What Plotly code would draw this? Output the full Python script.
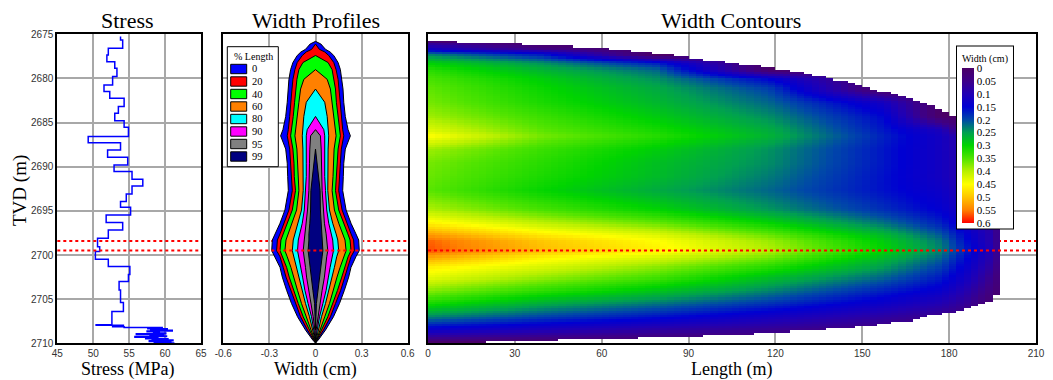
import numpy as np
import plotly.graph_objects as go

# The page body has an 8 px margin, so the figure is sized to fill the rest of the window.
OFF = 8
W, H = 1053 - OFF, 380 - OFF

# ---------------- data ----------------
# Stress log: top depth of each step (m TVD) and its stress (MPa)
stress_tvd = [2675.26, 2675.64, 2676.59, 2677.34, 2678.10, 2678.85, 2679.79, 2680.74,
              2681.49, 2682.25, 2683.19, 2683.95, 2684.78, 2685.53, 2686.59, 2687.27,
              2688.10, 2688.93, 2689.80, 2690.55, 2691.42, 2692.18, 2693.08, 2693.95,
              2694.59, 2695.46, 2696.33, 2697.16, 2698.10, 2699.05, 2699.61, 2700.48,
              2701.31, 2702.20, 2703.01, 2703.95, 2705.39, 2706.41, 2707.90, 2707.96,
              2708.05, 2708.12, 2708.20, 2708.28, 2708.36, 2708.44, 2708.52, 2708.60,
              2708.68, 2708.76, 2708.84, 2708.92, 2709.00, 2709.08, 2709.16, 2709.24,
              2709.32, 2709.40, 2709.48, 2709.56, 2709.64, 2709.72, 2709.80, 2709.88,
              2709.96, 2710.00]
stress_mpa = [53.8, 54.1, 52.1, 51.9, 53.0, 53.3, 52.7, 51.5,
              52.3, 54.3, 53.5, 53.0, 54.3, 54.9, 49.3, 53.8,
              52.0, 54.8, 52.9, 55.4, 56.9, 55.4, 54.6, 53.8,
              55.2, 51.8, 54.1, 52.1, 50.6, 50.9, 50.3, 52.1,
              55.1, 54.9, 53.6, 53.8, 54.2, 52.6, 50.4, 54.2,
              52.7, 54.3, 59.6, 57.6, 60.3, 58.0, 61.0, 57.5,
              59.2, 58.4, 60.1, 56.0, 59.8, 57.9, 60.2, 55.8,
              59.0, 57.3, 60.4, 58.2, 61.1, 57.8, 60.8, 58.5,
              61.2, 61.2]

# Perforated interval (red dotted lines)
perf_top, perf_bottom = 2698.4, 2699.5

# Width profiles: half-width (cm) at given depths for each % of fracture length
prof_tvd = [2675.8, 2676.1, 2676.7, 2677.0, 2677.4, 2678.2, 2679.0, 2680.1, 2681.2, 2682.7,
            2684.3, 2685.8, 2686.5, 2688.0, 2689.6, 2691.1, 2692.7, 2694.9, 2696.4, 2697.6,
            2698.3, 2699.5, 2700.2, 2701.4, 2702.5, 2704.0, 2705.5, 2707.0, 2708.5, 2709.7,
            2709.95]
pct_length = [0, 20, 40, 60, 80, 90, 95, 99]
pct_colors = ["#0000ff", "#ff0000", "#00ff00", "#ff8000", "#00ffff", "#ff00ff", "#808080", "#000080"]
hw_0 = [0, 0.035, 0.065, 0.095, 0.119, 0.147, 0.162, 0.173, 0.179, 0.184,
        0.194, 0.212, 0.227, 0.194, 0.184, 0.181, 0.177, 0.199, 0.231, 0.263,
        0.281, 0.285, 0.263, 0.231, 0.216, 0.188, 0.156, 0.117, 0.065, 0.015,
        0]
hw_20 = [0, 0, 0.025, 0.060, 0.086, 0.119, 0.134, 0.147, 0.153, 0.158,
         0.168, 0.177, 0.184, 0.168, 0.162, 0.158, 0.151, 0.173, 0.203, 0.231,
         0.248, 0.253, 0.231, 0.210, 0.192, 0.164, 0.130, 0.097, 0.052, 0.010,
         0]
hw_40 = [0, 0, 0, 0, 0, 0.082, 0.108, 0.121, 0.130, 0.136,
         0.145, 0.156, 0.162, 0.147, 0.140, 0.138, 0.130, 0.151, 0.181, 0.210,
         0.225, 0.231, 0.212, 0.188, 0.171, 0.143, 0.112, 0.080, 0.039, 0.006,
         0]
hw_60 = [0, 0, 0, 0, 0, 0, 0, 0.076, 0.097, 0.108,
         0.119, 0.130, 0.134, 0.121, 0.119, 0.114, 0.108, 0.123, 0.151, 0.177,
         0.192, 0.199, 0.184, 0.160, 0.140, 0.117, 0.091, 0.060, 0.030, 0.004,
         0]
hw_80 = [0, 0, 0, 0, 0, 0, 0, 0, 0, 0.060,
         0.076, 0.082, 0.086, 0.082, 0.082, 0.080, 0.080, 0.091, 0.112, 0.134,
         0.145, 0.151, 0.138, 0.123, 0.108, 0.086, 0.065, 0.039, 0.017, 0.002,
         0]
hw_90 = [0, 0, 0, 0, 0, 0, 0, 0, 0, 0,
         0, 0.054, 0.060, 0.060, 0.060, 0.060, 0.065, 0.073, 0.086, 0.102,
         0.112, 0.117, 0.108, 0.095, 0.084, 0.069, 0.048, 0.026, 0.011, 0,
         0]
hw_95 = [0, 0, 0, 0, 0, 0, 0, 0, 0, 0,
         0, 0, 0.032, 0.037, 0.039, 0.039, 0.043, 0.052, 0.058, 0.069,
         0.073, 0.080, 0.073, 0.065, 0.058, 0.043, 0.030, 0.015, 0.004, 0,
         0]
hw_99 = [0, 0, 0, 0, 0, 0, 0, 0, 0, 0,
         0, 0, 0, 0, 0.010, 0.019, 0.030, 0.032, 0.037, 0.043,
         0.043, 0.048, 0.043, 0.035, 0.026, 0.017, 0.006, 0.003, 0, 0,
         0]
half_widths = [hw_0, hw_20, hw_40, hw_60, hw_80, hw_90, hw_95, hw_99]

# Fracture half-length (m) vs depth
frac_max_length = 197.0
tip_tvd = [2675.0, 2675.7, 2675.8, 2676.0, 2676.25, 2676.5, 2677.0, 2677.5, 2678.0, 2678.4,
           2678.8, 2679.3, 2679.8, 2680.3, 2680.8, 2681.3, 2681.6, 2682.0, 2682.6, 2683.1,
           2683.5, 2684.1, 2684.7, 2686.0, 2688.0, 2690.0, 2692.0, 2694.0, 2696.0, 2697.0,
           2704.0, 2704.8, 2705.5, 2705.9, 2706.5, 2706.8, 2707.4, 2707.8, 2708.2, 2708.5,
           2708.9, 2709.2, 2709.5, 2709.8, 2710.0]
tip_length = [0, 0, 3, 22, 42, 57, 75, 87, 99, 109,
              119, 128, 136, 143, 150, 154, 159, 163, 169, 174,
              176, 181, 184, 188, 191.5, 194, 195.5, 196.5, 197.5, 198,
              198, 195.6, 192, 188, 181, 174, 166, 156, 145, 133,
              111, 91, 61, 20, 20]

# Width colour scale (cm)
width_scale = [(0.00, "#4b0066"), (0.05, "#3d0088"), (0.10, "#2000b4"), (0.15, "#0000d2"),
               (0.20, "#0048a8"), (0.25, "#00a050"), (0.30, "#00d400"), (0.35, "#50e400"),
               (0.40, "#b8f000"), (0.45, "#ffff00"), (0.50, "#ffc400"), (0.55, "#ff8000"),
               (0.60, "#ff0000")]
width_max = 0.6

# ---------------- helpers (window pixel -> paper fraction) ----------------
def px_x(p):
    return (p - OFF) / W

def px_y(p):
    return 1 - (p - OFF) / H

SERIF = "Liberation Serif, Times New Roman, serif"
SANS = "Liberation Sans Narrow, Arial Narrow, Liberation Sans, Arial, sans-serif"

ydom = [px_y(343.3), px_y(34.3)]
dom1 = [px_x(57.3), px_x(201)]
dom2 = [px_x(223.3), px_x(407.7)]
dom3 = [px_x(428), px_x(1036)]

fig = go.Figure()

# ---------------- Stress panel ----------------
fig.add_trace(go.Scatter(x=stress_mpa, y=stress_tvd, mode="lines", line_shape="vh",
                         line=dict(color="#0000ff", width=1.5), xaxis="x", yaxis="y",
                         showlegend=False, hoverinfo="skip"))

# ---------------- Width profiles ----------------
pt = np.array(prof_tvd)
for pct, col, hw in zip(pct_length, pct_colors, half_widths):
    h = np.array(hw)
    nz = np.nonzero(h > 0)[0]
    i0 = max(nz.min() - 1, 0)
    i1 = min(nz.max() + 1, len(h) - 1)
    hh = h[i0:i1 + 1]
    dd = pt[i0:i1 + 1]
    xs = [float(v) for v in hh] + [float(-v) for v in hh[::-1]]
    ys = [float(v) for v in dd] + [float(v) for v in dd[::-1]]
    fig.add_trace(go.Scatter(x=xs, y=ys, mode="lines", fill="toself", fillcolor=col,
                             line=dict(color="black", width=1), xaxis="x2", yaxis="y2",
                             name=str(pct), showlegend=False, hoverinfo="skip"))

# ---------------- Width contours ----------------
rows = np.arange(2675.625, 2710.0, 0.25)
xc = np.arange(1.25, 210.0, 2.5)
pos = [p / 100.0 * frac_max_length for p in pct_length] + [frac_max_length + 2]
Z = []
for d in rows:
    wv = [2 * float(np.interp(d, prof_tvd, hw)) for hw in half_widths] + [0.0]
    Lz = float(np.interp(d, tip_tvd, tip_length))
    vals = np.interp(xc, pos, wv)
    Z.append([float(v) if x <= Lz else None for x, v in zip(xc, vals)])

cs = [[v / width_max, c] for v, c in width_scale]
fig.add_trace(go.Heatmap(x=[float(v) for v in xc], y=[float(v) for v in rows], z=Z,
                         colorscale=cs, zmin=0, zmax=width_max,
                         showscale=False, xaxis="x3", yaxis="y3", hoverinfo="skip"))

# colour bar (0 at top, 0.6 at bottom) via a hidden helper trace
cs_rev = [[1 - v / width_max, c] for v, c in reversed(width_scale)]
tick_vals = [-v for v, _ in width_scale]
tick_text = [("%g" % v) for v, _ in width_scale]
cbar = dict(x=px_x(957), xanchor="left", y=px_y(46), yanchor="top",
            len=182, lenmode="pixels", thickness=12, thicknessmode="pixels",
            bgcolor="white", bordercolor="black", borderwidth=1, outlinewidth=0,
            xpad=5, ypad=5, tickvals=tick_vals, ticktext=tick_text,
            ticks="",
            tickfont=dict(family=SERIF, size=11, color="black"),
            title=dict(text="Width (cm)", side="top",
                       font=dict(family=SERIF, size=10, color="black")))
fig.add_trace(go.Scatter(x=[None], y=[None], mode="markers", xaxis="x3", yaxis="y3",
                         showlegend=False, hoverinfo="skip",
                         marker=dict(color=[0], colorscale=cs_rev, cmin=-width_max, cmax=0,
                                     showscale=True, colorbar=cbar)))

# ---------------- axes ----------------
grid = dict(showgrid=True, gridcolor="#a8a8a8", gridwidth=1.5, zeroline=False,
            showline=True, mirror=True, linecolor="black", linewidth=2, ticks="",
            tickfont=dict(family=SANS, size=10, color="#333"))
fig.update_layout(
    xaxis=dict(domain=dom1, range=[45, 65], tick0=45, dtick=5, anchor="y", **grid),
    yaxis=dict(domain=ydom, range=[2710, 2675], tick0=2675, dtick=5, anchor="x", **grid),
    xaxis2=dict(domain=dom2, range=[-0.6, 0.6], tickvals=[-0.6, -0.3, 0, 0.3, 0.6],
                ticktext=["-0.6", "-0.3", "0", "0.3", "0.6"], anchor="y2", **grid),
    yaxis2=dict(domain=ydom, range=[2710, 2675], tick0=2675, dtick=5, anchor="x2",
                showticklabels=False, **grid),
    xaxis3=dict(domain=dom3, range=[0, 210], tick0=0, dtick=30, anchor="y3", **grid),
    yaxis3=dict(domain=ydom, range=[2710, 2675], tick0=2675, dtick=5, anchor="x3",
                showticklabels=False, **grid),
)

# ---------------- perforation lines ----------------
shapes = []
red = dict(color="#ff0000", width=2, dash="dot")
for ax in ["x", "x2", "x3"]:
    yr = "y" if ax == "x" else "y" + ax[1:]
    shapes.append(dict(type="line", xref=ax + " domain", yref=yr, x0=0, x1=1,
                       y0=perf_top, y1=perf_top, line=red,
                       layer="above" if ax == "x" else "below"))
    shapes.append(dict(type="line", xref=ax + " domain", yref=yr, x0=0, x1=1,
                       y0=perf_bottom, y1=perf_bottom, line=red, layer="above"))

# ---------------- legend of width profiles (drawn) ----------------
annotations = []
shapes.append(dict(type="rect", xref="paper", yref="paper", x0=px_x(227.3), x1=px_x(278.3),
                   y0=px_y(166.7), y1=px_y(46.7), fillcolor="white",
                   line=dict(color="black", width=1), layer="above"))
annotations.append(dict(text="% Length", x=px_x(253), y=px_y(56.5), xref="paper", yref="paper",
                        xanchor="center", yanchor="middle", showarrow=False,
                        font=dict(family=SERIF, size=10, color="black")))
for i, (pct, col) in enumerate(zip(pct_length, pct_colors)):
    yc = 69 + 12.5 * i
    shapes.append(dict(type="rect", xref="paper", yref="paper", x0=px_x(230.7), x1=px_x(246.7),
                       y0=px_y(yc + 4.7), y1=px_y(yc - 4.7), fillcolor=col,
                       line=dict(color="black", width=1), layer="above"))
    annotations.append(dict(text=str(pct), x=px_x(250), y=px_y(yc), xref="paper", yref="paper",
                            xanchor="left", yanchor="middle", showarrow=False,
                            font=dict(family=SERIF, size=10.5, color="black")))

# ---------------- titles ----------------
for txt, xp in [("Stress", 127), ("Width Profiles", 316), ("Width Contours", 731)]:
    annotations.append(dict(text=txt, x=px_x(xp), y=px_y(21), xref="paper", yref="paper",
                            xanchor="center", yanchor="middle", showarrow=False,
                            font=dict(family=SERIF, size=22, color="black")))
for txt, xp in [("Stress (MPa)", 128), ("Width (cm)", 316), ("Length (m)", 731)]:
    annotations.append(dict(text=txt, x=px_x(xp), y=px_y(369), xref="paper", yref="paper",
                            xanchor="center", yanchor="middle", showarrow=False,
                            font=dict(family=SERIF, size=18, color="black")))
annotations.append(dict(text="TVD (m)", x=px_x(20), y=px_y(191), xref="paper", yref="paper",
                        xanchor="center", yanchor="middle", textangle=-90, showarrow=False,
                        font=dict(family=SERIF, size=19, color="black")))

fig.update_layout(width=W, height=H, margin=dict(l=0, r=0, t=0, b=0, autoexpand=False),
                  paper_bgcolor="white", plot_bgcolor="white", showlegend=False,
                  shapes=shapes, annotations=annotations)

fig.write_html("out.html")
